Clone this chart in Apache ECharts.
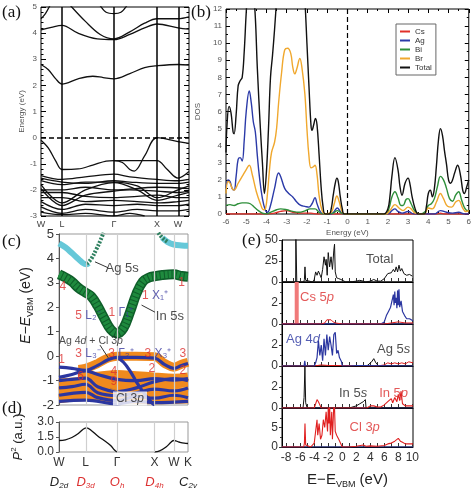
<!DOCTYPE html>
<html><head><meta charset="utf-8">
<script src="https://cdn.jsdelivr.net/npm/echarts@6/dist/echarts.min.js"></script>
<style>html,body{margin:0;padding:0;background:#fff}#c{width:474px;height:490px}</style>
</head><body><div id="c"></div>
<script>
// ================= DATA =================
// (a) band structure
const kPosA = [0, 0.142, 0.493, 0.784, 0.926];
const kLabelsA = ['W', 'L', 'Γ', 'X', 'W'];
const bandsA = [
  [[0,2.8],[0.05,2.6],[0.1,2.25],[0.142,2.05],[0.25,2.25],[0.35,2.35],[0.42,2.3],[0.493,2.25],[0.6,2.45],[0.7,2.68],[0.784,2.75],[0.926,2.8],[1,2.78]],
  [[0,4.12],[0.07,4.22],[0.142,4.3],[0.25,4.0],[0.38,3.78],[0.493,3.75],[0.6,3.95],[0.7,4.2],[0.784,4.35],[0.926,4.2],[1,4.15]],
  [[0,4.55],[0.03,4.75],[0.06,5.05]],
  [[0.2,5.05],[0.3,4.45],[0.4,3.95],[0.493,3.78],[0.6,4.05],[0.7,4.38],[0.784,4.55],[0.926,4.55],[1,4.62]],
  [[0.4,5.05],[0.44,4.8],[0.493,4.75],[0.54,4.8],[0.58,5.05]],
  [[0,-0.1],[0.05,-0.4],[0.1,-0.9],[0.142,-1.22],[0.25,-1.2],[0.35,-1.05],[0.44,-0.9],[0.493,-0.88],[0.55,-0.95],[0.6,-1.22],[0.63,-1.28],[0.7,-0.7],[0.784,0.0],[0.926,-0.15],[1,-0.22]],
  [[0.493,-0.88],[0.784,-0.88],[0.85,-1.2],[0.926,-1.55],[1,-1.3]],
  [[0,-1.45],[0.142,-1.6],[0.3,-1.5],[0.493,-1.4],[0.6,-1.5],[0.784,-1.6],[0.926,-1.65],[1,-1.6]],
  [[0,-1.55],[0.142,-1.7],[0.3,-1.75],[0.493,-1.65],[0.6,-1.7],[0.784,-1.75],[0.926,-1.75],[1,-1.7]],
  [[0,-1.65],[0.142,-1.8],[0.3,-1.7],[0.493,-1.7],[0.65,-1.85],[0.784,-2.3],[0.926,-2.0],[1,-1.85]],
  [[0,-1.8],[0.142,-2.5],[0.3,-2.0],[0.493,-1.72],[0.65,-2.0],[0.784,-2.4],[0.926,-2.2],[1,-2.1]],
  [[0,-1.95],[0.142,-2.6],[0.3,-2.2],[0.493,-2.05],[0.6,-2.0],[0.784,-2.05],[0.926,-2.1],[1,-2.05]],
  [[0,-2.1],[0.142,-2.1],[0.3,-2.25],[0.493,-2.3],[0.65,-2.25],[0.784,-2.2],[0.926,-2.3],[1,-2.3]],
  [[0,-2.3],[0.142,-2.3],[0.3,-2.45],[0.493,-2.4],[0.65,-2.45],[0.784,-2.5],[0.926,-2.45],[1,-2.4]],
  [[0,-2.45],[0.142,-2.75],[0.3,-2.55],[0.493,-2.6],[0.65,-2.55],[0.784,-2.6],[0.926,-2.6],[1,-2.55]],
  [[0,-2.65],[0.142,-2.9],[0.3,-2.75],[0.493,-2.85],[0.65,-2.75],[0.784,-2.8],[0.926,-2.8],[1,-2.75]],
  [[0,-2.85],[0.142,-2.95],[0.3,-2.9],[0.493,-3.0],[0.6,-2.9],[0.7,-3.0]],
  [[0,-2.0],[0.142,-2.0],[0.3,-1.9],[0.493,-2.0],[0.784,-1.9],[1,-1.95]]
];

// (b) DOS
const dosNames = ['Cs', 'Ag', 'Bi', 'Br', 'Total'];
const dosCs = [[-6,0],[-4,0],[-3.6,0.05],[-3.3,0.15],[-3.0,0.2],[-2.7,0.1],[-2.2,0.05],[-1.8,0.05],[-1.5,0],[4.4,0],[4.6,0.05],[4.8,0],[6,0]];
const dosAg = [[-6,1.5],[-5.9,2.0],[-5.8,1.9],[-5.7,1.5],[-5.6,1.4],[-5.5,2.2],[-5.4,3.2],[-5.3,3.3],[-5.2,3.1],[-5.1,4.3],[-5.0,6.0],[-4.85,7.2],[-4.75,6.5],[-4.65,5.4],[-4.55,4.8],[-4.45,3.4],[-4.35,2.2],[-4.2,0.9],[-4.05,0.2],[-3.95,0.1],[-3.8,0.5],[-3.6,1.5],[-3.4,2.4],[-3.3,2.2],[-3.1,1.5],[-2.9,1.2],[-2.7,1.0],[-2.5,0.7],[-2.3,0.5],[-2.1,0.45],[-1.9,0.4],[-1.75,0.6],[-1.6,0.95],[-1.5,0.6],[-1.35,0.15],[-1.2,0],[-0.8,0],[-0.65,0.15],[-0.5,0.35],[-0.35,0.15],[-0.2,0],[2.0,0],[2.2,0.2],[2.35,0.3],[2.5,0.15],[2.7,0.05],[3.0,0.15],[3.3,0],[4.3,0],[4.6,0.2],[4.9,0.1],[5.2,0.05],[5.5,0.1],[5.8,0],[6,0]];
const dosBi = [[-6,0.5],[-5.8,0.55],[-5.6,0.5],[-5.4,0.6],[-5.2,0.65],[-5.0,0.65],[-4.8,0.6],[-4.6,0.4],[-4.4,0.2],[-4.2,0.05],[-4.0,0],[-3.8,0.1],[-3.5,0.25],[-3.3,0.3],[-3.0,0.25],[-2.7,0.15],[-2.4,0.1],[-2.1,0.18],[-1.85,0.3],[-1.6,0.3],[-1.4,0.1],[-1.2,0],[-0.7,0.05],[-0.5,0.2],[-0.3,0.05],[-0.1,0],[1.9,0],[2.05,0.3],[2.2,1.0],[2.35,1.3],[2.5,0.95],[2.65,0.5],[2.75,0.5],[2.9,0.85],[3.0,0.9],[3.15,0.6],[3.35,0.15],[3.6,0],[3.85,0.15],[4.0,0.5],[4.15,0.6],[4.3,0.9],[4.45,1.6],[4.6,2.2],[4.75,2.0],[4.9,1.5],[5.05,0.9],[5.2,0.75],[5.35,1.1],[5.5,1.3],[5.65,0.8],[5.8,0.35],[5.95,0.2],[6,0.25]];
const dosBr = [[-6,1.2],[-5.9,1.9],[-5.8,1.8],[-5.7,1.5],[-5.6,1.4],[-5.4,1.8],[-5.2,2.2],[-5.0,2.6],[-4.85,2.85],[-4.7,2.3],[-4.5,1.3],[-4.3,0.6],[-4.15,0.25],[-4.05,0.3],[-3.95,1.2],[-3.85,2.6],[-3.75,3.6],[-3.6,4.2],[-3.5,5.0],[-3.4,6.5],[-3.25,8.3],[-3.1,9.6],[-2.95,9.7],[-2.8,9.4],[-2.7,8.6],[-2.6,8.2],[-2.5,8.5],[-2.35,9.1],[-2.25,8.6],[-2.1,7.0],[-2.0,5.0],[-1.9,3.4],[-1.8,2.7],[-1.7,2.75],[-1.6,2.85],[-1.5,2.3],[-1.4,1.1],[-1.25,0.2],[-1.1,0],[-0.8,0.1],[-0.65,0.6],[-0.52,1.05],[-0.4,0.7],[-0.25,0.1],[-0.1,0],[1.9,0],[2.1,0.2],[2.35,0.55],[2.55,0.35],[2.75,0.2],[3.0,0.4],[3.15,0.3],[3.35,0.05],[3.8,0],[4.0,0.35],[4.2,0.3],[4.4,0.7],[4.6,1.2],[4.75,0.9],[4.95,0.45],[5.15,0.4],[5.35,0.7],[5.5,0.8],[5.7,0.35],[5.85,0.15],[6,0.2]];
const dosTotal = [[-6,3.6],[-5.95,5.2],[-5.85,6.3],[-5.75,5.9],[-5.65,4.8],[-5.6,4.7],[-5.5,5.8],[-5.4,7.5],[-5.3,7.8],[-5.2,8.0],[-5.1,9.5],[-5.0,11.8],[-4.9,13.5],[-4.8,14],[-4.65,13],[-4.55,11.5],[-4.45,8.5],[-4.3,5],[-4.2,3],[-4.1,1.2],[-4.0,2.5],[-3.9,5],[-3.8,8],[-3.7,9.3],[-3.6,10.8],[-3.5,12.5],[-3.4,14],[-2.2,14],[-2.1,12.5],[-2.0,10],[-1.9,7.5],[-1.8,5.2],[-1.75,4.9],[-1.65,5.3],[-1.58,5.6],[-1.5,5.2],[-1.4,3.5],[-1.3,1.6],[-1.2,0.4],[-1.1,0],[-0.9,0],[-0.8,0.3],[-0.7,1.1],[-0.6,1.8],[-0.52,2.1],[-0.45,1.9],[-0.35,1.0],[-0.25,0.3],[-0.15,0],[1.8,0],[2.0,0.3],[2.1,1.0],[2.2,2.2],[2.35,3.3],[2.5,2.6],[2.6,1.6],[2.7,1.1],[2.85,1.8],[3.0,2.1],[3.1,1.7],[3.2,1.0],[3.35,0.3],[3.5,0],[3.8,0],[3.9,0.4],[4.0,1.2],[4.1,1.4],[4.2,1.0],[4.3,1.5],[4.4,2.8],[4.5,4.3],[4.6,5.0],[4.7,4.6],[4.8,3.7],[4.9,2.9],[5.0,2.0],[5.1,1.8],[5.2,2.0],[5.3,2.4],[5.45,2.85],[5.6,2.2],[5.7,1.4],[5.78,1.2],[5.9,1.6],[6.0,2.0]];

// (c) fat bands
const kPosC = [0, 0.206, 0.45, 0.74, 0.89, 1];
const kLabelsC = ['W', 'L', 'Γ', 'X', 'W', 'K'];
const symPos = [0, 0.206, 0.45, 0.74, 1];
const symMain = ['D', 'D', 'O', 'D', 'C'];
const symSub = ['2d', '3d', 'h', '4h', '2v'];
const symRed = [false, true, true, true, false];
const ag5sLeft = [[0,4.62],[0.05,4.45],[0.1,4.22],[0.15,3.98],[0.2,3.77],[0.215,3.76],[0.23,3.8]];
const ag5sRight = [[0.8,4.85],[0.84,4.68],[0.89,4.57],[0.95,4.53],[1,4.52]];
const mixUpLeft = [[0.215,3.78],[0.25,3.98],[0.29,4.38],[0.32,4.72],[0.345,5.05]];
const mixUpRight = [[0.77,5.05],[0.8,4.85],[0.84,4.68]];
const in5s = [[0,3.35],[0.05,3.22],[0.1,3.05],[0.15,2.8],[0.206,2.6],[0.25,2.45],[0.3,2.05],[0.35,1.55],[0.4,1.1],[0.45,0.93],[0.5,1.15],[0.55,1.8],[0.6,2.55],[0.65,3.05],[0.7,3.22],[0.74,3.27],[0.8,3.32],[0.89,3.35],[0.95,3.28],[1,3.25]];
const vbBlue = [
  [[0,-0.45],[0.1,-0.5],[0.206,-0.58],[0.3,-0.38],[0.38,-0.15],[0.45,-0.05],[0.6,-0.05],[0.74,-0.08],[0.82,-0.35],[0.89,-0.5],[0.95,-0.38],[1,-0.3]],
  [[0.45,-0.05],[0.5,-0.25],[0.55,-0.6],[0.6,-1.05],[0.65,-1.45],[0.7,-1.8],[0.74,-2.0]],
  [[0,-0.87],[0.1,-0.75],[0.206,-0.6],[0.3,-0.75],[0.45,-0.95],[0.6,-1.0],[0.74,-0.92],[0.89,-0.98],[1,-0.92]],
  [[0,-1.0],[0.1,-0.95],[0.206,-0.9],[0.3,-1.25],[0.45,-1.45],[0.6,-1.3],[0.74,-1.05],[0.89,-0.92],[1,-1.0]],
  [[0,-1.3],[0.1,-1.25],[0.206,-1.15],[0.3,-1.5],[0.45,-1.62],[0.6,-1.5],[0.74,-1.35],[0.89,-1.42],[1,-1.3]],
  [[0,-1.6],[0.206,-1.48],[0.3,-1.7],[0.45,-1.82],[0.6,-1.65],[0.74,-1.72],[0.89,-1.6],[1,-1.7]],
  [[0,-1.85],[0.206,-1.8],[0.45,-1.95],[0.6,-1.85],[0.74,-1.9],[1,-1.85]]
];
const vbOrange = [
  [[0.15,-0.55],[0.206,-0.5],[0.3,-0.3],[0.38,-0.08],[0.45,0.0],[0.6,0.0],[0.74,-0.02],[0.82,-0.3],[0.89,-0.45],[0.95,-0.33],[1,-0.25]],
  [[0.15,-0.82],[0.206,-0.8],[0.3,-0.82],[0.45,-0.75],[0.6,-0.8],[0.74,-0.85],[0.89,-0.9],[1,-0.85]],
  [[0.25,-0.95],[0.35,-0.95],[0.45,-0.95],[0.55,-0.98],[0.65,-1.0]],
  [[0,-1.1],[0.206,-1.05],[0.45,-1.18],[0.74,-1.15],[1,-1.1]],
  [[0,-1.45],[0.206,-1.38],[0.45,-1.5],[0.74,-1.45],[1,-1.5]],
  [[0,-1.75],[0.206,-1.65],[0.45,-1.72],[0.74,-1.78],[1,-1.75]]
];
const cLabels = [
  [0.03,2.84,'{r|4}'],[0.95,2.99,'{r|1}'],[0.745,2.46,'{r|1} {b|X₁⁺}'],
  [0.225,1.64,'{r|5} {b|L₂⁻}'],[0.48,1.76,'{r|1} {b|Γ₁⁺}'],
  [0.86,1.64,'{k|In 5s}'],[0.49,3.6,'{k|Ag 5s}'],
  [0.02,-0.16,'{r|1}'],[0.225,0.12,'{r|3} {b|L₃⁻}'],[0.48,0.12,'{r|3} {b|Γ₃⁺}'],
  [0.767,0.12,'{r|3} {b|X₃⁺}'],[0.96,0.12,'{r|3}'],
  [0.168,-0.85,'{r|6}'],[0.426,-0.64,'{r|4}'],[0.72,-0.53,'{r|2}'],[0.96,-0.61,'{r|2}'],[0.426,-1.05,'{r|9}']
];
const leadersC = [
  [[0.279,3.86],[0.38,3.62]],
  [[0.64,2.09],[0.744,1.80]],
  [[0.318,0.45],[0.382,-0.07]]
];
const leaderCl = [[0.395,-1.31],[0.496,-1.52]];

// (d) transition
const pSqLeft = [[0,1.15],[0.05,1.22],[0.1,1.45],[0.15,1.85],[0.19,2.3],[0.215,2.42],[0.25,2.15],[0.3,1.6],[0.35,1.15],[0.4,0.65],[0.43,0.2],[0.45,0]];
const pSqRight = [[0.74,0],[0.78,0.12],[0.83,0.5],[0.87,1.0],[0.89,1.15],[0.93,1.0],[0.97,0.88],[1,0.85]];

// (e) PDOS panels
const eTicks = [-8,-7,-6,-5,-4,-3,-2,-1,0,1,2,3,4,5,6,7,8,9,10];
const eLabelVals = [-8,-6,-4,-2,0,2,4,6,8,10];
const eTotal = [[-8.6,0],[-6.65,0],[-6.62,55],[-6.52,55],[-6.49,0],[-5.5,0],[-5.4,3],[-5.32,18],[-5.22,2],[-4.2,0],[-4,3],[-3.8,12],[-3.6,8],[-3.4,13],[-3.2,9],[-3.0,5],[-2.8,15],[-2.6,30],[-2.4,20],[-2.3,27],[-2.15,8],[-2.0,35],[-1.8,18],[-1.6,30],[-1.4,15],[-1.2,38],[-1.1,45],[-1.0,12],[-0.8,5],[-0.5,4],[-0.2,3],[0,1],[0.5,0],[1.5,0.5],[2,1],[2.5,2],[3,1],[3.3,0],[4,1],[4.5,3],[5,1],[5.5,1],[6,4],[6.5,10],[7,11],[7.3,15],[7.5,12],[7.7,18],[7.9,12],[8.1,20],[8.3,13],[8.5,16],[8.8,10],[9.2,8],[9.6,9],[10,7],[10.1,7]];
const eCsBar = [[-6.5,0],[-6.5,4]];
const eCsBlue = [[-8.6,0],[5.5,0],[6,0.2],[6.3,0.8],[6.6,1.2],[6.9,1.6],[7.1,1.5],[7.3,2.8],[7.4,1.8],[7.5,3.1],[7.6,2.0],[7.7,2.5],[7.8,1.5],[7.9,3.2],[8.0,1.8],[8.1,3.3],[8.2,1.6],[8.4,2.2],[8.6,1.2],[8.9,0.8],[9.2,0.5],[9.6,0.5],[10.1,0.3]];
const eCsRed = [[-8.6,0],[-3,0],[-2.5,0.1],[-2.2,0.4],[-2,0.3],[-1.6,0.4],[-1.3,0.2],[-1,0.1],[0,0],[6,0],[7,0.1],[8,0.2],[9,0.1],[10.1,0.1]];
const eAgBlue = [[-8.6,0],[-5.45,0],[-5.35,0.5],[-5.25,0],[-4,0],[-3.8,0.3],[-3.6,0.8],[-3.4,2.4],[-3.2,1.0],[-3.0,2.0],[-2.8,0.5],[-2.6,2.6],[-2.4,1.0],[-2.2,3.0],[-2.0,1.5],[-1.8,2.8],[-1.6,2.0],[-1.4,1.0],[-1.2,3.0],[-1.0,3.2],[-0.8,1.2],[-0.6,1.5],[-0.4,0.8],[-0.1,0.4],[0,0],[1,0],[2,0.05],[3,0.05],[10.1,0]];
const eAgBlack = [[3.5,0],[4.2,0.4],[4.5,0.7],[4.8,0.3],[5.2,0],[6.5,0],[6.7,0.15],[6.9,0],[10.1,0]];
const eAgRed = [[-8.6,0],[-4,0],[-3,0.1],[-2,0.05],[5,0],[6,0.1],[6.5,0.3],[7,0.2],[7.5,0.3],[8,0.2],[8.5,0.3],[9,0.2],[9.5,0.4],[10.1,0.3]];
const eInBlack = [[-8.6,0],[-5.6,0],[-5.45,1],[-5.33,3.9],[-5.22,0.5],[-5,0],[1,0],[2,0.2],[2.5,0.4],[3,0.6],[3.3,0.8],[3.4,0],[10.1,0]];
const eInRed = [[-8.6,0],[-4,0],[-3.8,0.4],[-3.6,0.8],[-3.4,0.6],[-3.2,0.3],[-3,0],[0,0],[3.5,0],[4,0.2],[4.5,0.2],[5,0.1],[5.5,0.1],[6,0.3],[6.5,0.6],[7,0.9],[7.2,0.5],[7.5,1.0],[7.8,0.6],[8,1.3],[8.2,0.7],[8.4,1.6],[8.6,0.4],[9,0.2],[10.1,0.2]];
const eClRed = [[-8.6,0],[-5.5,0],[-5.4,1],[-5.32,6],[-5.22,0.5],[-4.5,0],[-4,1],[-3.8,4],[-3.6,7],[-3.5,3],[-3.3,6],[-3.1,2],[-2.9,3],[-2.7,7],[-2.5,5],[-2.3,9],[-2.1,4],[-2.0,10],[-1.9,6],[-1.8,11],[-1.7,3],[-1.5,9],[-1.4,2],[-1.2,11],[-1.1,10],[-1.0,4],[-0.8,3],[-0.5,2],[-0.3,1.5],[0,0],[1,0],[2,0.2],[3,0.5],[3.4,0.2],[4,0.3],[5,0.2],[6,0.4],[6.5,0.8],[7,1],[7.5,1.5],[8,2.2],[8.3,1.5],[8.6,1.2],[9,0.8],[10.1,0.8]];
const eBaseline = [[-8.6,0],[10.1,0]];
const eMax = [50, 4, 4, 4, 10];
const eInterval = [25, 2, 2, 2, 5];
const eLabels = [
  [0,5.34,27,'{k|Total}'],
  [1,-3.6,2.5,'{r|Cs 5}{ri|p}'],
  [2,-5.6,2.55,'{b|Ag 4}{bi|d}'],[2,7.33,1.6,'{k|Ag 5}{ki|s}'],
  [3,1.54,1.35,'{k|In 5}{ki|s}'],[3,7.33,1.35,'{r|In 5}{ri|p}'],
  [4,3.2,5.1,'{r|Cl 3}{ri|p}']
];

// ================= BUILD =================
const FONT = 'Liberation Sans, Arial, sans-serif';
const SERIF = 'Liberation Serif, DejaVu Serif, serif';
const RED = '#dc3030', BLUE = '#2b36a0', DARK = '#222';

function kFmt(pos, labels) {
  return v => { const i = pos.findIndex(p => Math.abs(p - v) < 1e-6); return i < 0 ? '' : labels[i]; };
}

const grids = [
  {left:41, top:7, width:148, height:209, show:true, borderColor:'#000', borderWidth:1},
  {left:226, top:9, width:243, height:205, show:true, borderColor:'#000', borderWidth:1},
  {left:59, top:234, width:129, height:171, show:true, borderColor:'#999', borderWidth:1},
  {left:59, top:422, width:129, height:34, show:true, borderColor:'#999', borderWidth:1}
];
for (let i = 0; i < 5; i++) grids.push({left:282, top:240 + 42 * i, width:131, height: i === 4 ? 41 : 42, show:true, borderColor:'#000', borderWidth:1});

const smallLabel = {fontSize:8, color:'#555', fontFamily:FONT};
const noLine = {show:false, onZero:false};

const xAxes = [
  {gridIndex:0, type:'value', min:0, max:1, axisLine:noLine, axisTick:{show:false}, splitLine:{show:false},
   axisLabel:{customValues:kPosA, formatter:kFmt(kPosA, kLabelsA), fontSize:9, color:'#444', margin:4, fontFamily:FONT, showMinLabel:true, showMaxLabel:true}},
  {gridIndex:1, type:'value', min:-6, max:6, interval:1, axisLine:noLine,
   axisTick:{inside:true, length:4, lineStyle:{color:'#000'}}, minorTick:{show:true, splitNumber:2, length:2, lineStyle:{color:'#000'}},
   splitLine:{show:false}, axisLabel:Object.assign({margin:4}, smallLabel),
   name:'Energy (eV)', nameLocation:'middle', nameGap:15, nameTextStyle:smallLabel},
  {gridIndex:2, type:'value', min:0, max:1, axisLine:noLine, axisTick:{show:false}, axisLabel:{show:false}, splitLine:{show:false}},
  {gridIndex:3, type:'value', min:0, max:1, axisLine:noLine, axisTick:{show:false}, splitLine:{show:false},
   axisLabel:{customValues:kPosC, formatter:kFmt(kPosC, kLabelsC), margin:5, fontSize:12, color:'#333', fontFamily:FONT, showMinLabel:true, showMaxLabel:true, hideOverlap:false}}
];
for (let i = 0; i < 5; i++) {
  const last = i === 4;
  xAxes.push({gridIndex:4 + i, type:'value', min:-8.6, max:10.1,
    axisLine:{show:true, onZero:false, lineStyle:{color:'#000'}},
    axisTick:{show:true, inside:true, length:4, customValues:eTicks, lineStyle:{color:'#333'}},
    splitLine:{show:false},
    axisLabel:{show:last, customValues:eLabelVals, fontSize:12, color:'#333', margin:5, fontFamily:FONT},
    name: last ? '{n|E−E}{s|VBM}{n| (eV)}' : '', nameLocation:'middle', nameGap:24,
    nameTextStyle:{rich:{n:{fontSize:15, color:'#222', fontFamily:FONT, lineHeight:18}, s:{fontSize:9, color:'#222', fontFamily:FONT, lineHeight:9, verticalAlign:'bottom'}}}
  });
}
// mirrored axes (index 9)
xAxes.push({gridIndex:1, type:'value', position:'top', min:-6, max:6, interval:1, axisLine:noLine,
  axisTick:{inside:true, length:4, lineStyle:{color:'#000'}}, minorTick:{show:true, splitNumber:2, length:2, lineStyle:{color:'#000'}},
  axisLabel:{show:false}, splitLine:{show:false}});
// point-group symbol row under (d) (index 10)
xAxes.push({gridIndex:3, type:'value', position:'bottom', offset:17, min:0, max:1, axisLine:noLine, axisTick:{show:false}, splitLine:{show:false},
  axisLabel:{customValues:symPos, margin:5, fontFamily:FONT, showMinLabel:true, showMaxLabel:true, hideOverlap:false,
    formatter: v => {
      const i = symPos.findIndex(p => Math.abs(p - v) < 1e-6);
      if (i < 0) return '';
      return symRed[i] ? '{ir|' + symMain[i] + '}{sr|' + symSub[i] + '}' : '{ib|' + symMain[i] + '}{sb|' + symSub[i] + '}';
    },
    rich:{
      ib:{fontSize:13, color:'#222', fontStyle:'italic', fontFamily:FONT, lineHeight:16},
      sb:{fontSize:8, color:'#222', fontStyle:'italic', fontFamily:FONT, lineHeight:8, verticalAlign:'bottom'},
      ir:{fontSize:13, color:RED, fontStyle:'italic', fontFamily:FONT, lineHeight:16},
      sr:{fontSize:8, color:RED, fontStyle:'italic', fontFamily:FONT, lineHeight:8, verticalAlign:'bottom'}
    }}});

const yAxes = [
  {gridIndex:0, type:'value', min:-3, max:5, interval:1, axisLine:noLine,
   axisTick:{inside:true, length:5, lineStyle:{color:'#000'}}, minorTick:{show:true, splitNumber:5, length:2.5, lineStyle:{color:'#000'}},
   splitLine:{show:false}, axisLabel:Object.assign({margin:4}, smallLabel),
   name:'Energy (eV)', nameLocation:'middle', nameGap:14, nameTextStyle:smallLabel},
  {gridIndex:1, type:'value', min:0, max:12, interval:1, axisLine:noLine,
   axisTick:{inside:true, length:4, lineStyle:{color:'#000'}}, minorTick:{show:true, splitNumber:2, length:2, lineStyle:{color:'#000'}},
   splitLine:{show:false}, axisLabel:Object.assign({margin:4}, smallLabel),
   name:'DOS', nameLocation:'middle', nameGap:22, nameTextStyle:smallLabel},
  {gridIndex:2, type:'value', min:-2, max:5, interval:1, axisLine:{show:true, onZero:false, lineStyle:{color:'#555'}},
   axisTick:{inside:false, length:3, lineStyle:{color:'#555'}}, splitLine:{show:false},
   axisLabel:{fontSize:13, color:'#333', margin:5, fontFamily:FONT},
   name:'{i|E}{n|−}{i|E}{s|VBM}{n| (eV)}', nameLocation:'middle', nameGap:24,
   nameTextStyle:{padding:[0,0,0,28], rich:{i:{fontSize:14, fontStyle:'italic', color:'#222', fontFamily:FONT, lineHeight:18}, n:{fontSize:14, color:'#222', fontFamily:FONT, lineHeight:18}, s:{fontSize:9, color:'#222', fontFamily:FONT, lineHeight:9, verticalAlign:'bottom'}}}},
  {gridIndex:3, type:'value', min:0, max:3, interval:1.5, axisLine:{show:true, onZero:false, lineStyle:{color:'#555'}},
   axisTick:{inside:false, length:3, lineStyle:{color:'#555'}}, splitLine:{show:false},
   axisLabel:{fontSize:12, color:'#333', margin:5, fontFamily:FONT, formatter: v => v.toFixed(1)},
   name:'{i|P}{sup|2}{n| (a.u.)}', nameLocation:'middle', nameGap:32,
   nameTextStyle:{rich:{i:{fontSize:13, fontStyle:'italic', color:'#222', fontFamily:FONT, lineHeight:17}, n:{fontSize:13, color:'#222', fontFamily:FONT, lineHeight:17}, sup:{fontSize:8, color:'#222', fontFamily:FONT, lineHeight:8, verticalAlign:'top'}}}}
];
for (let i = 0; i < 5; i++) {
  yAxes.push({gridIndex:4 + i, type:'value', min:0, max:eMax[i], interval:eInterval[i],
    axisLine:{show:true, onZero:false, lineStyle:{color:'#000'}},
    axisTick:{inside:false, length:3, lineStyle:{color:'#333'}},
    minorTick:{show:true, splitNumber:2, length:2, lineStyle:{color:'#333'}},
    splitLine:{show:false},
    axisLabel:{fontSize:12, color:'#333', margin:4, fontFamily:FONT, showMaxLabel: i === 0}});
}
yAxes.push({gridIndex:0, type:'value', position:'right', min:-3, max:5, interval:1, axisLine:noLine,
  axisTick:{inside:true, length:5, lineStyle:{color:'#000'}}, minorTick:{show:true, splitNumber:5, length:2.5, lineStyle:{color:'#000'}},
  axisLabel:{show:false}, splitLine:{show:false}});
yAxes.push({gridIndex:1, type:'value', position:'right', min:0, max:12, interval:1, axisLine:noLine,
  axisTick:{inside:true, length:4, lineStyle:{color:'#000'}}, minorTick:{show:true, splitNumber:2, length:2, lineStyle:{color:'#000'}},
  axisLabel:{show:false}, splitLine:{show:false}});

const series = [];
function line(gi, data, color, width, extra) {
  series.push(Object.assign({type:'line', xAxisIndex:gi, yAxisIndex:gi, data:data, symbol:'none', silent:true,
    lineStyle:{color:color, width:width}, itemStyle:{color:color}, animation:false}, extra || {}));
}
function vlines(gi, xs, color, width, dashed, z) {
  series.push({type:'line', xAxisIndex:gi, yAxisIndex:gi, data:[], silent:true, z:z,
    markLine:{symbol:'none', silent:true, animation:false, label:{show:false},
      lineStyle:{color:color, width:width, type: dashed ? [5,3] : 'solid'},
      data: xs.map(x => ({xAxis:x}))}});
}
function hline(gi, y, color, width, z) {
  series.push({type:'line', xAxisIndex:gi, yAxisIndex:gi, data:[], silent:true, z:z,
    markLine:{symbol:'none', silent:true, animation:false, label:{show:false},
      lineStyle:{color:color, width:width, type:[5,3]}, data:[{yAxis:y}]}});
}
function annot(gi, x, y, text, rich, extra) {
  series.push({type:'scatter', xAxisIndex:gi, yAxisIndex:gi, symbolSize:0, silent:true, z:10, animation:false,
    data:[[x, y]], label:Object.assign({show:true, position:'inside', formatter:text, rich:rich}, extra || {})});
}

// (a)
vlines(0, kPosA.slice(1), '#000', 1.5, false, 3);
hline(0, 0, '#000', 1.5, 3);
bandsA.forEach(b => line(0, b, '#111', 1.3, {smooth:0.35}));

// (b)
vlines(1, [0], '#000', 1.2, true, 3);
const dosSets = [dosCs, dosAg, dosBi, dosBr, dosTotal];
const dosColors = ['#e0302a', '#2b3aa8', '#2e8f3a', '#f0a82e', '#111'];
dosSets.forEach((d, i) => line(1, d, dosColors[i], 1.4, {name:dosNames[i], smooth:0.4, z: i === 4 ? 4 : 3}));

// (c)
vlines(2, kPosC.slice(1, 5), '#cfcfcf', 1.2, false, 1);
vbOrange.forEach(b => line(2, b, '#f08a1e', 9, {smooth:0.4}));
vbBlue.forEach(b => line(2, b, BLUE, 3.2, {smooth:0.4}));
line(2, ag5sLeft, '#66c8d8', 6, {smooth:0.4});
line(2, ag5sRight, '#66c8d8', 6, {smooth:0.4});
line(2, mixUpLeft, '#2f8060', 4, {smooth:0.4, lineStyle:{color:'#2f8060', width:4, type:[2,1.5]}});
line(2, mixUpRight, '#2f8060', 4, {smooth:0.4, lineStyle:{color:'#2f8060', width:4, type:[2,1.5]}});
line(2, in5s, '#0f5e2a', 10, {smooth:0.4});
line(2, in5s, '#1f8a3e', 7, {smooth:0.4, lineStyle:{color:'#1f8a3e', width:7, type:[3,1]}});
leadersC.forEach(l => line(2, l, '#333', 1, {z:9}));
line(2, leaderCl, '#c07a3a', 1, {z:9});
const cRich = {
  r:{color:RED, fontSize:12, fontFamily:FONT},
  b:{color:'#3b3ba0', fontSize:12, fontFamily:FONT},
  k:{color:DARK, fontSize:13, fontFamily:FONT}
};
cLabels.forEach(a => annot(2, a[0], a[1], a[2], cRich));
annot(2, 0.0, 0.61, '{k|Ag 4}{i|d}{k| + Cl 3}{i|p}', {
  k:{color:DARK, fontSize:10.5, fontFamily:FONT}, i:{color:DARK, fontSize:10.5, fontStyle:'italic', fontFamily:FONT}},
  {position:'right', distance:0});
annot(2, 0.55, -1.73, '{k|Cl 3}{i|p}', {
  k:{color:DARK, fontSize:12, fontFamily:FONT}, i:{color:DARK, fontSize:12, fontStyle:'italic', fontFamily:FONT}},
  {backgroundColor:'#fff', padding:[1,3]});

// (d)
vlines(3, kPosC.slice(1, 5), '#cfcfcf', 1.2, false, 1);
line(3, pSqLeft, '#111', 1.3, {smooth:0.4});
line(3, pSqRight, '#111', 1.3, {smooth:0.4});

// (e)
line(4, eTotal, '#111', 1);
line(5, eCsBar, '#f07a7a', 4);
line(5, eBaseline, BLUE, 1);
line(5, eCsBlue, BLUE, 1.2);
line(5, eCsRed, '#e02020', 1);
line(6, eAgBlack, '#111', 1);
line(6, eAgRed, '#e02020', 1);
line(6, eAgBlue, BLUE, 1.2);
line(7, eBaseline, BLUE, 1);
line(7, eInBlack, '#111', 1);
line(7, eInRed, '#e02020', 1.1);
line(8, eBaseline, BLUE, 1);
line(8, eClRed, '#e02020', 1.1);
const eRich = {
  k:{color:DARK, fontSize:13, fontFamily:FONT}, ki:{color:DARK, fontSize:13, fontStyle:'italic', fontFamily:FONT},
  r:{color:RED, fontSize:13, fontFamily:FONT}, ri:{color:RED, fontSize:13, fontStyle:'italic', fontFamily:FONT},
  b:{color:BLUE, fontSize:13, fontFamily:FONT}, bi:{color:BLUE, fontSize:13, fontStyle:'italic', fontFamily:FONT}
};
eLabels.forEach(a => annot(4 + a[0], a[1], a[2], a[3], eRich));

const chart = echarts.init(document.getElementById('c'), null, {renderer:'canvas'});
chart.setOption({
  animation:false,
  backgroundColor:'#fff',
  textStyle:{fontFamily:FONT},
  grid:grids, xAxis:xAxes, yAxis:yAxes, series:series,
  legend:{data:dosNames, orient:'vertical', left:396, top:24, icon:'rect', itemWidth:10, itemHeight:2, itemGap:0,
    padding:[3,4], borderColor:'#666', borderWidth:1, backgroundColor:'#fff', selectedMode:false,
    textStyle:{fontSize:8, color:'#333', lineHeight:9, fontFamily:FONT}},
  graphic:[
    {type:'text', left:2, top:4, style:{text:'(a)', font:'17px ' + SERIF, fill:'#111'}},
    {type:'text', left:191, top:4, style:{text:'(b)', font:'17px ' + SERIF, fill:'#111'}},
    {type:'text', left:2, top:233, style:{text:'(c)', font:'17px ' + SERIF, fill:'#111'}},
    {type:'text', left:2, top:400, style:{text:'(d)', font:'17px ' + SERIF, fill:'#111'}},
    {type:'text', left:242, top:232, style:{text:'(e)', font:'17px ' + SERIF, fill:'#111'}}
  ]
});
</script></body></html>
